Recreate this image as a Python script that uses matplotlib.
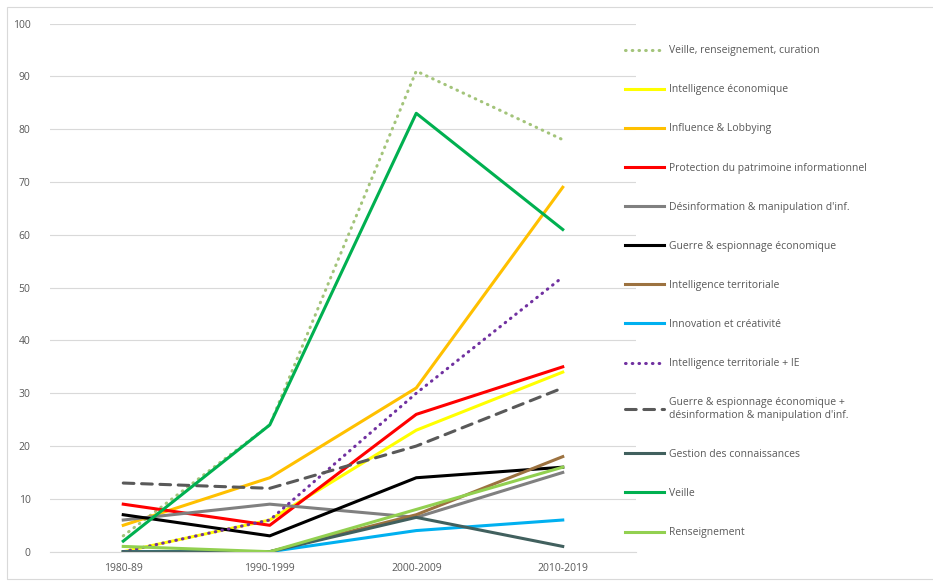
import matplotlib
matplotlib.use("Agg")
import matplotlib.pyplot as plt
from matplotlib.patches import Rectangle

# categories and series values
periods = ["1980-89", "1990-1999", "2000-2009", "2010-2019"]

veille_rens_curation = [3, 24, 91, 78]
intel_eco = [0, 6, 23, 34]
influence = [5, 14, 31, 69]
protection = [9, 5, 26, 35]
desinformation = [6, 9, 6.5, 15]
guerre = [7, 3, 14, 16]
intel_terr = [0, 0, 7, 18]
innovation = [0, 0, 4, 6]
intel_terr_ie = [0, 6, 30, 52]
guerre_desinfo = [13, 12, 20, 31]
gestion = [0, 0, 6.5, 1]
veille = [2, 24, 83, 61]
renseignement = [1, 0, 8, 16]

series = [
    ("Veille, renseignement, curation", veille_rens_curation, "#A3C47A", "dot"),
    ("Intelligence économique", intel_eco, "#FFFF00", "solid"),
    ("Influence & Lobbying", influence, "#FFC000", "solid"),
    ("Protection du patrimoine informationnel", protection, "#FF0000", "solid"),
    ("Désinformation & manipulation d'inf.", desinformation, "#808080", "solid"),
    ("Guerre & espionnage économique", guerre, "#000000", "solid"),
    ("Intelligence territoriale", intel_terr, "#9C7240", "solid"),
    ("Innovation et créativité", innovation, "#00B0F0", "solid"),
    ("Intelligence territoriale + IE", intel_terr_ie, "#7030A0", "dot"),
    ("Guerre & espionnage économique +\ndésinformation & manipulation d'inf.", guerre_desinfo, "#595959", "dash"),
    ("Gestion des connaissances", gestion, "#41605E", "solid"),
    ("Veille", veille, "#00B050", "solid"),
    ("Renseignement", renseignement, "#92D050", "solid"),
]

plt.rcParams['font.family'] = ['Open Sans', 'DejaVu Sans']

fig = plt.figure(figsize=(9.33, 5.84), dpi=100)
ax = fig.add_axes([50 / 933, 32.3 / 584, 586 / 933, 528.2 / 584])

x = list(range(len(periods)))
for label, vals, color, style in series:
    if style == "dot":
        ax.plot(x, vals, color=color, lw=2.2, linestyle=(0, (0.2, 2.0)),
                dash_capstyle="round", label=label)
    elif style == "dash":
        ax.plot(x, vals, color=color, lw=2.2, linestyle=(0, (3.5, 2.5)),
                dash_capstyle="round", label=label)
    else:
        ax.plot(x, vals, color=color, lw=2.2, label=label)

ax.set_xlim(-0.5, len(periods) - 0.5)
ax.set_ylim(0, 100)
ax.set_yticks(range(0, 101, 10))
ax.set_xticks(x)
ax.set_xticklabels(periods)
ax.grid(axis="y", color="#D9D9D9", lw=0.8)
ax.set_axisbelow(True)
for side in ["top", "right", "left"]:
    ax.spines[side].set_visible(False)
ax.spines["bottom"].set_color("#D9D9D9")
ax.tick_params(length=0, labelsize=7.5, colors="#595959")
ax.tick_params(axis="y", pad=14)
ax.tick_params(axis="x", pad=8)

leg = ax.legend(loc="upper left", bbox_to_anchor=(621 / 933, 1 - 41 / 584),
                bbox_transform=fig.transFigure, frameon=False, fontsize=7.5,
                handlelength=3.7, handletextpad=0.5, labelspacing=2.70,
                borderaxespad=0)
for t in leg.get_texts():
    t.set_color("#595959")

# outer chart border
fig.patches.append(Rectangle((7 / 933, 5 / 584), 0.995, 572 / 584,
                             transform=fig.transFigure, fill=False,
                             edgecolor="#D9D9D9", lw=0.8))

fig.savefig("out.png", dpi=100)
